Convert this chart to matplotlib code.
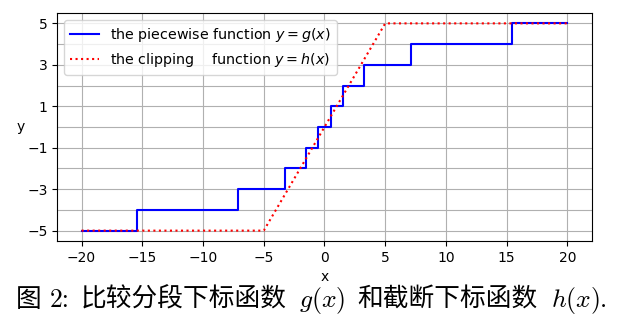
import matplotlib
matplotlib.use("Agg")
import matplotlib.pyplot as plt
from matplotlib.offsetbox import TextArea, HPacker, AnchoredOffsetbox, DrawingArea

# Piecewise index function g(x): breakpoints and the level taken after each one
g_breaks = [-15.45, -7.1, -3.25, -1.5, -0.5, 0.5, 1.5, 3.25, 7.1, 15.45]
g_levels = [-5, -4, -3, -2, -1, 0, 1, 2, 3, 4, 5]
x_range = [-20, 20]

# Clipping function h(x) = clip(x, -5, 5): corner points
h_x = [-20, -5, 5, 20]
h_y = [-5, -5, 5, 5]

x_ticks = [-20, -15, -10, -5, 0, 5, 10, 15, 20]
y_ticks = [-5, -3, -1, 1, 3, 5]
y_minor = [-4, -2, 0, 2, 4]

g_x = [x_range[0]] + g_breaks + [x_range[1]]
g_y = g_levels + [g_levels[-1]]

fig = plt.figure(figsize=(6.22, 3.22), dpi=100)
ax = fig.add_axes([0.0921, 0.2516, 0.8592, 0.708])

ax.step(g_x, g_y, where="post", color="blue", lw=1.5,
        label=r"the piecewise function $y=g(x)$")
ax.plot(h_x, h_y, color="red", ls=":", lw=1.5,
        label=r"the clipping    function $y=h(x)$")

ax.set_xticks(x_ticks)
ax.set_yticks(y_ticks)
ax.set_yticks(y_minor, minor=True)
ax.tick_params(axis="y", which="minor", length=0)
ax.grid(True, which="both")

ax.set_xlabel("x")
ax.set_ylabel("y", rotation=0, ha="center", va="center")
ax.yaxis.set_label_coords(-0.068, 0.5)

ax.legend(loc="upper left", fontsize=10.3)

# Caption: CJK text pieces interleaved with math pieces, packed on one baseline
cap_size = 18.5
cjk = dict(fontsize=cap_size, family=["Noto Sans CJK SC"])
roman = dict(fontsize=cap_size, family=["cmr10"])
math = dict(fontsize=cap_size, math_fontfamily="cm")


def gap(pts):
    return DrawingArea(pts, 0)


pieces = [
    TextArea("图", textprops=cjk), gap(6),
    TextArea("2:", textprops=roman), gap(8),
    TextArea("比较分段下标函数", textprops=cjk), gap(9),
    TextArea(r"$g(x)$", textprops=math), gap(9),
    TextArea("和截断下标函数", textprops=cjk), gap(9),
    TextArea(r"$h(x)$", textprops=math),
    TextArea(".", textprops=roman),
]
row = HPacker(children=pieces, align="baseline", pad=0, sep=0)
box = AnchoredOffsetbox(loc="center", child=row, pad=0, borderpad=0,
                        frameon=False, bbox_to_anchor=(0.5, 0.068),
                        bbox_transform=fig.transFigure)
fig.add_artist(box)

fig.savefig("out.png", dpi=100)
